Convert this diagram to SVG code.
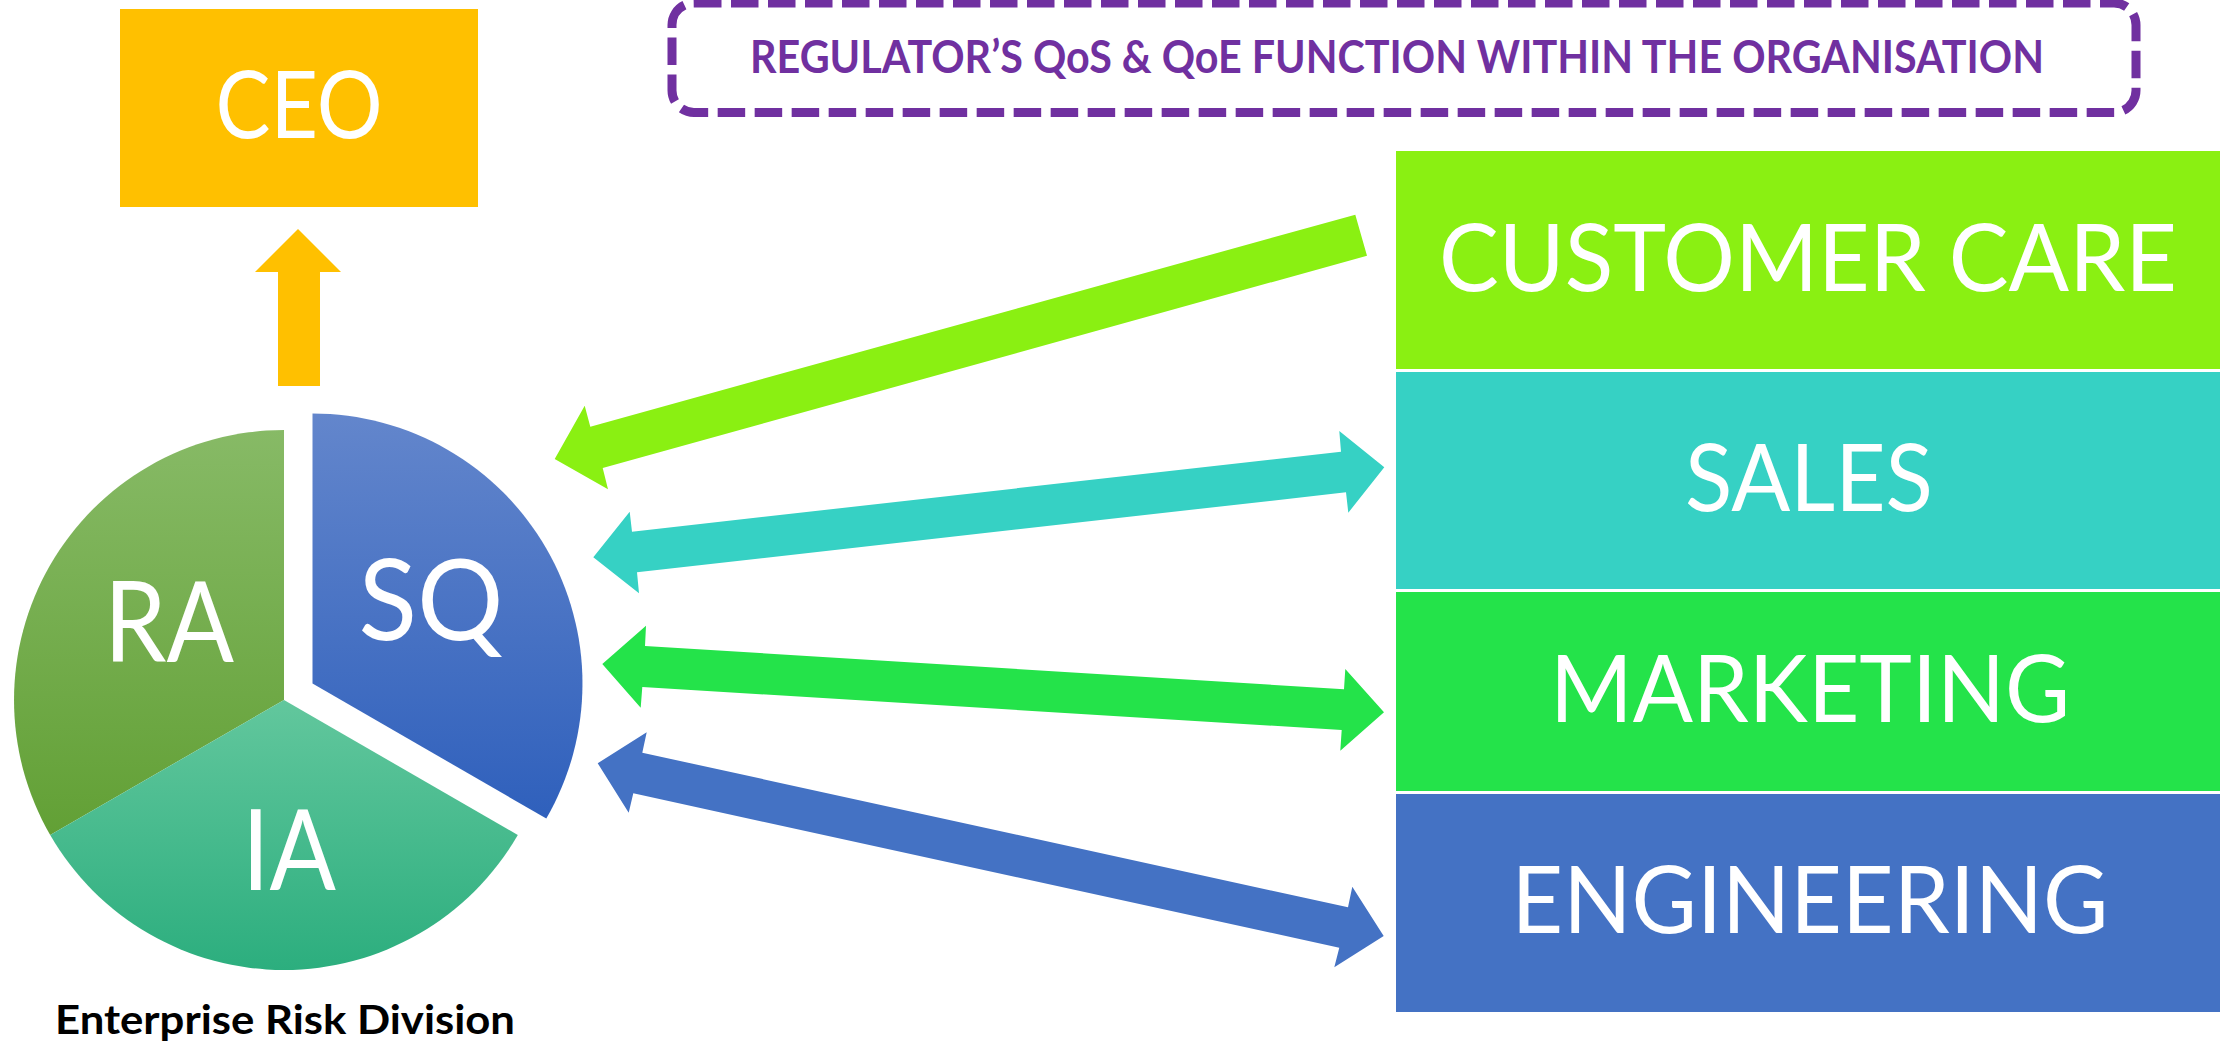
<svg xmlns="http://www.w3.org/2000/svg" width="2223" height="1042" viewBox="0 0 2223 1042">
  <defs>
    <linearGradient id="gRA" x1="0" y1="0" x2="0" y2="1">
      <stop offset="0" stop-color="#87BA66"/>
      <stop offset="1" stop-color="#62A035"/>
    </linearGradient>
    <linearGradient id="gIA" x1="0" y1="0" x2="0" y2="1">
      <stop offset="0" stop-color="#62C79D"/>
      <stop offset="1" stop-color="#2CAE7E"/>
    </linearGradient>
    <linearGradient id="gSQ" x1="0" y1="0" x2="0" y2="1">
      <stop offset="0" stop-color="#6386CC"/>
      <stop offset="1" stop-color="#2F60BC"/>
    </linearGradient>
  </defs>
  <style>
    .lbl { font-family: Lato, "Open Sans", "Liberation Sans", sans-serif; fill: #FFFFFF; text-anchor: middle; }
    .big { font-size: 93px; }
    .pie { font-size: 113px; }
    .hdr { font-family: Lato, "Open Sans", "Liberation Sans", sans-serif; font-weight: bold; font-size: 46px; fill: #7030A0; }
    .cap { font-family: Lato, "Open Sans", "Liberation Sans", sans-serif; font-weight: bold; font-size: 40px; fill: #000000; }
  </style>
  <rect width="2223" height="1042" fill="#FFFFFF"/>

  <g id="regulator-frame">
    <rect x="672" y="3" width="1464" height="109.5" rx="22" ry="22" fill="none" stroke="#7030A0" stroke-width="9" stroke-dasharray="27.5 9.5"/>
    <text class="hdr" x="750" y="73" textLength="1294" lengthAdjust="spacingAndGlyphs">REGULATOR’S QoS &amp; QoE FUNCTION WITHIN THE ORGANISATION</text>
  </g>

  <g id="ceo">
    <rect x="120" y="9" width="358" height="198" fill="#FFC000"/>
    <text class="lbl big" x="299" y="138" textLength="167" lengthAdjust="spacingAndGlyphs">CEO</text>
  </g>

  <g id="pie-ra">
    <path d="M284,700 L284,430 A270,270 0 0,0 50.2,835 Z" fill="url(#gRA)"/>
    <text class="lbl pie" x="169" y="662" textLength="130" lengthAdjust="spacingAndGlyphs">RA</text>
  </g>
  <g id="pie-ia">
    <path d="M284,700 L50.2,835 A270,270 0 0,0 517.8,835 Z" fill="url(#gIA)"/>
    <text class="lbl pie" x="289" y="890" textLength="94" lengthAdjust="spacingAndGlyphs">IA</text>
  </g>
  <g id="pie-sq">
    <path d="M312.5,683.5 L312.5,413.5 A270,270 0 0,1 546.3,818.5 Z" fill="url(#gSQ)"/>
    <text class="lbl pie" x="431" y="640" textLength="145" lengthAdjust="spacingAndGlyphs">SQ</text>
  </g>
  <g id="division-label">
    <text class="cap" x="55" y="1034" textLength="460" lengthAdjust="spacingAndGlyphs">Enterprise Risk Division</text>
  </g>

  <g id="customer-care">
    <rect x="1396" y="151" width="824" height="218" fill="#8AF012"/>
    <text class="lbl big" x="1808" y="291" textLength="738" lengthAdjust="spacingAndGlyphs">CUSTOMER CARE</text>
  </g>
  <g id="sales">
    <rect x="1396" y="372" width="824" height="217" fill="#36D1C4"/>
    <text class="lbl big" x="1809" y="511" textLength="248" lengthAdjust="spacingAndGlyphs">SALES</text>
  </g>
  <g id="marketing">
    <rect x="1396" y="592" width="824" height="199" fill="#24E34A"/>
    <text class="lbl big" x="1810" y="722" textLength="520" lengthAdjust="spacingAndGlyphs">MARKETING</text>
  </g>
  <g id="engineering">
    <rect x="1396" y="794" width="824" height="218" fill="#4472C4"/>
    <text class="lbl big" x="1810" y="933" textLength="597" lengthAdjust="spacingAndGlyphs">ENGINEERING</text>
  </g>

  <g id="connectors">
    <polygon points="298,229 341,272 320,272 320,386 278,386 278,272 255,272" fill="#FFC000"/>
    <polygon points="554.7,459 584.7,405.7 590.3,426.7 1355.3,214.7 1367,255.7 602.7,468 608,489.3" fill="#8AF012"/>
    <polygon points="593.3,557.3 629.7,511.7 632,531.7 1341,451.7 1339.3,431 1384.3,467.3 1348.3,512.7 1346,492.3 637,572.3 639,593.3" fill="#36D1C4"/>
    <polygon points="602.3,664 646,625.7 645,646 1344,689.3 1345.3,669 1384,712.3 1340.3,750.7 1341.7,730 642.3,687 640.7,707.7" fill="#24E34A"/>
    <polygon points="597.7,763.3 646.7,732.3 642.3,752.7 1348,907.3 1352.3,886.7 1383.7,936 1334.3,967.3 1339.3,947.7 633.3,793.3 628.7,812.7" fill="#4472C4"/>
  </g>
</svg>
